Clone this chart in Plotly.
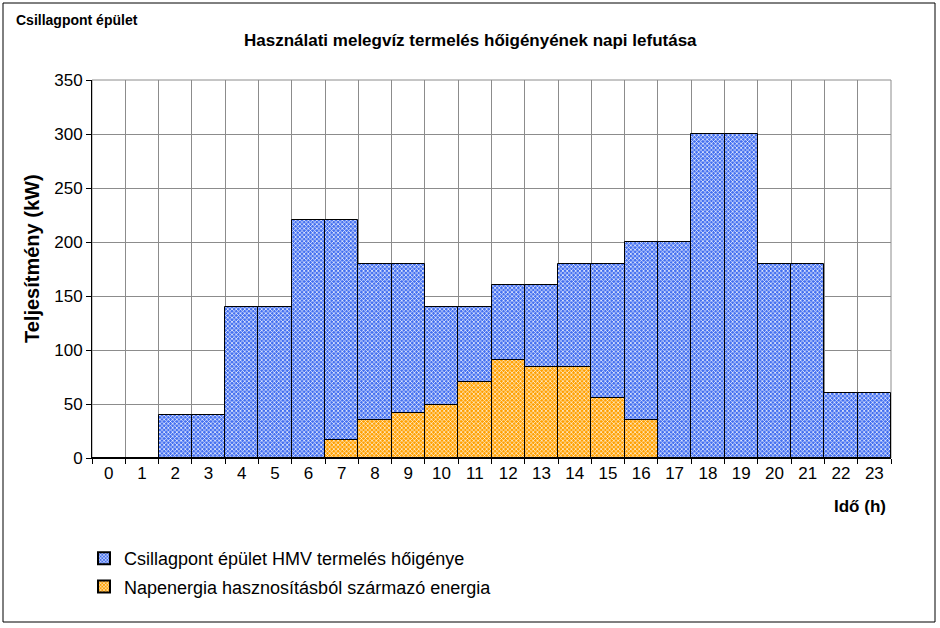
import plotly.graph_objects as go

hours = [str(h) for h in range(24)]
demand = [0, 0, 40, 40, 140, 140, 220, 220, 180, 180, 140, 140,
          160, 160, 180, 180, 200, 200, 300, 300, 180, 180, 60, 60]
solar = [0, 0, 0, 0, 0, 0, 0, 17, 35, 42, 49, 70,
         91, 84, 84, 56, 35, 0, 0, 0, 0, 0, 0, 0]
y_ticks = [0, 50, 100, 150, 200, 250, 300, 350]

FONT = "Liberation Sans, Arial, sans-serif"
W, H = 940, 628
L, R, T, B = 92, 49, 80, 170
pw, ph = W - L - R, H - T - B

def px(x):
    return (x - L) / pw

def py(y):
    return (H - B - y) / ph

fig = go.Figure()
fig.add_trace(go.Bar(
    x=hours, y=demand, name="Csillagpont épület HMV termelés hőigénye",
    width=1, legendgroup="a",
    marker=dict(color="#4470f0", line=dict(color="black", width=1),
                pattern=dict(shape="x", fgcolor="#ffffff", bgcolor="#4470f0",
                             size=3, solidity=0.4, fillmode="replace")),
))
fig.add_trace(go.Bar(
    x=hours, y=solar, name="Napenergia hasznosításból származó energia",
    width=1, legendgroup="b",
    marker=dict(color="#ffa000", line=dict(color="black", width=1),
                pattern=dict(shape="x", fgcolor="#ffffff", bgcolor="#ffa000",
                             size=3, solidity=0.38, fillmode="replace")),
))

fig.update_layout(
    width=W, height=H, barmode="overlay", bargap=0,
    margin=dict(l=L, r=R, t=T, b=B),
    paper_bgcolor="white", plot_bgcolor="white",
    font=dict(family=FONT, size=17, color="black"),
    showlegend=True,
    legend=dict(x=px(84), y=py(540), xanchor="left", yanchor="top",
                orientation="v", font=dict(size=18, family=FONT),
                bgcolor="rgba(0,0,0,0)", itemsizing="constant",
                itemwidth=30, tracegroupgap=2),
    xaxis=dict(type="category", tickson="boundaries", showgrid=True,
               gridcolor="#8c8c8c", gridwidth=1, ticks="outside", ticklen=5,
               tickcolor="black", showline=True, linecolor="black", linewidth=1,
               tickfont=dict(size=17), range=[-0.5, 23.5]),
    yaxis=dict(range=[0, 350], tickvals=y_ticks, showgrid=True,
               gridcolor="#8c8c8c", gridwidth=1, ticks="outside", ticklen=5,
               tickcolor="black", showline=True, linecolor="black", linewidth=1,
               tickfont=dict(size=17), zeroline=False),
    annotations=[
        dict(text="<b>Csillagpont épület</b>", xref="paper", yref="paper",
             x=px(14), y=py(20), xanchor="left", yanchor="middle",
             showarrow=False, font=dict(size=14)),
        dict(text="<b>Használati melegvíz termelés hőigényének napi lefutása</b>",
             xref="paper", yref="paper", x=px(470), y=py(40),
             xanchor="center", yanchor="middle", showarrow=False,
             font=dict(size=17)),
        dict(text="<b>Teljesítmény (kW)</b>", xref="paper", yref="paper",
             x=px(32), y=py(258), xanchor="center", yanchor="middle",
             textangle=-90, showarrow=False, font=dict(size=20)),
        dict(text="<b>Idő (h)</b>", xref="paper", yref="paper",
             x=px(860), y=py(507), xanchor="center", yanchor="middle",
             showarrow=False, font=dict(size=17)),
    ],
    shapes=[
        dict(type="rect", xref="paper", yref="paper",
             x0=px(3), x1=px(935), y0=py(622), y1=py(3),
             line=dict(color="black", width=1), fillcolor="rgba(0,0,0,0)",
             layer="below"),
        dict(type="rect", xref="paper", yref="paper", x0=0, x1=1, y0=0, y1=1,
             line=dict(color="#8c8c8c", width=1), fillcolor="rgba(0,0,0,0)",
             layer="below"),
    ],
)

fig.write_html("out.html")
